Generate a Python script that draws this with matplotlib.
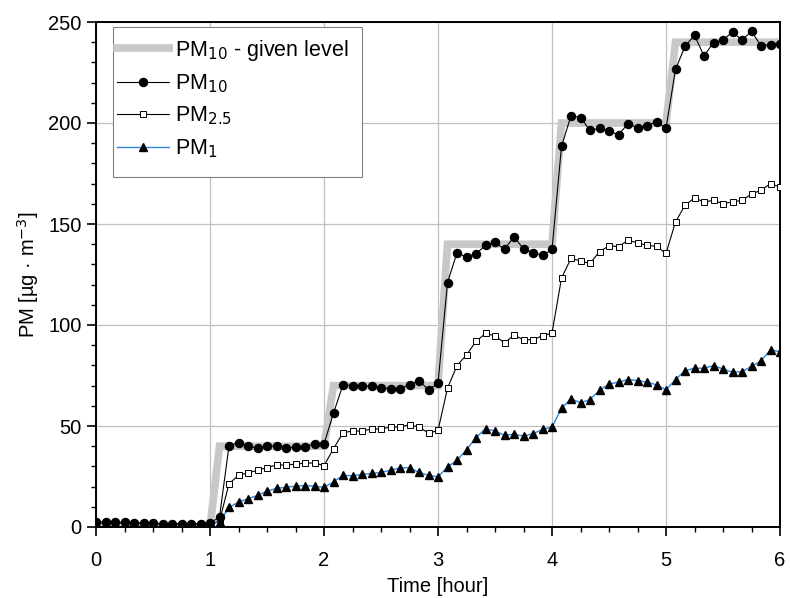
import numpy as np
import matplotlib.pyplot as plt
from matplotlib.patches import Rectangle
from matplotlib.ticker import MultipleLocator

# time axis: one sample every 5 minutes
time = np.arange(73) / 12

pm10 = [
    2.5, 2.5, 2.4, 2.3, 2.2, 2.0, 1.8, 1.7, 1.6, 1.6, 1.5, 1.5, 1.8,
    5.0, 40.1, 41.8, 40.1, 39.0, 40.1, 40.1, 39.3, 39.4, 39.8, 41.1, 41.1,
    56.4, 70.4, 70.0, 69.7, 69.7, 68.9, 68.5, 68.4, 70.5, 72.5, 67.9, 71.2,
    121.0, 135.8, 133.6, 135.3, 139.4, 140.9, 137.6, 143.6, 137.7, 135.8, 134.5, 137.4,
    188.4, 203.6, 202.7, 196.3, 197.4, 195.8, 194.3, 199.6, 197.7, 198.7, 200.7, 197.4,
    226.5, 238.0, 243.4, 233.2, 239.8, 241.0, 245.1, 241.0, 245.4, 238.2, 238.8, 239.3,
]

pm25 = [
    2.0, 2.0, 1.9, 1.8, 1.8, 1.7, 1.6, 1.5, 1.5, 1.4, 1.4, 1.4, 1.5,
    3.0, 21.4, 25.6, 26.8, 28.1, 29.4, 30.7, 30.7, 31.1, 31.6, 31.7, 30.4,
    38.7, 46.7, 47.5, 47.5, 48.5, 48.5, 49.5, 49.5, 50.6, 49.5, 46.5, 47.8,
    68.7, 79.9, 85.2, 91.9, 95.8, 94.7, 91.1, 95.0, 92.7, 92.7, 94.7, 96.0,
    123.2, 133.0, 131.7, 130.5, 136.3, 139.2, 138.8, 141.9, 140.7, 139.4, 139.0, 135.4,
    151.0, 159.3, 162.9, 160.9, 161.7, 160.1, 160.9, 161.7, 164.8, 166.7, 170.0, 168.3,
]

pm1 = [
    2.0, 2.0, 1.9, 1.9, 1.8, 1.7, 1.6, 1.5, 1.5, 1.4, 1.4, 1.4, 1.5,
    2.6, 9.7, 12.3, 14.0, 15.6, 17.8, 19.1, 19.7, 20.2, 20.5, 20.2, 19.6,
    22.3, 25.6, 25.3, 26.1, 26.5, 27.0, 28.1, 29.2, 29.4, 27.0, 25.6, 24.8,
    29.7, 33.0, 38.3, 44.2, 48.7, 47.5, 45.4, 45.9, 45.0, 46.2, 48.3, 49.5,
    58.7, 63.5, 61.5, 63.1, 67.6, 70.8, 71.7, 73.0, 72.5, 71.7, 70.4, 67.9,
    73.0, 77.4, 78.6, 78.6, 79.9, 78.2, 76.6, 76.9, 79.5, 82.3, 87.6, 86.8,
]

# given PM10 level (step vertices)
given_t = [0, 1, 1 + 1 / 12, 2, 2 + 1 / 12, 3, 3 + 1 / 12, 4, 4 + 1 / 12, 5, 5 + 1 / 12, 6]
given_v = [0, 0, 40, 40, 70, 70, 140, 140, 200, 200, 240, 240]

plt.rcParams["font.family"] = ["Liberation Sans", "DejaVu Sans"]

fig = plt.figure(figsize=(7.9, 5.98), dpi=100)
ax = fig.add_axes([96 / 790, 1 - 527 / 598, 684 / 790, 505 / 598])

ax.plot(given_t, given_v, color="#c8c8c8", lw=5.5, solid_joinstyle="miter",
        label="PM$_{10}$ - given level", zorder=2)
ax.plot(time, pm10, color="black", lw=0.8, marker="o", ms=5.8,
        label="PM$_{10}$", zorder=4)
ax.plot(time, pm25, color="black", lw=0.8, marker="s", ms=5, mfc="white",
        mec="black", mew=0.7, label="PM$_{2.5}$", zorder=3)
ax.plot(time, pm1, color="#2b86e0", lw=1.0, marker="^", ms=6.2, mfc="black",
        mec="black", label="PM$_{1}$", zorder=3)

ax.set_xlim(0, 6)
ax.set_ylim(0, 250)
ax.xaxis.set_major_locator(MultipleLocator(1))
ax.xaxis.set_minor_locator(MultipleLocator(0.25))
ax.yaxis.set_major_locator(MultipleLocator(50))
ax.yaxis.set_minor_locator(MultipleLocator(10))
ax.tick_params(which="major", direction="out", length=6.5, width=1.2,
               labelsize=14.5, colors="black")
ax.tick_params(which="minor", direction="out", length=3.5, width=1.0)
ax.tick_params(axis="x", which="major", pad=11)
ax.tick_params(axis="y", which="major", pad=4)
for s in ax.spines.values():
    s.set_linewidth(1.4)

ax.grid(True, which="major", color="#c0c0c0", lw=0.9, zorder=0)
ax.set_axisbelow(True)

ax.set_xlabel("Time [hour]", fontsize=14.5, labelpad=5)
ax.set_ylabel("PM [µg · m$^{-3}$]", fontsize=14.5, labelpad=5)

# legend entries without their own frame, box drawn separately
leg = ax.legend(loc="upper left", bbox_to_anchor=(0.024, 0.977), fontsize=15.5,
                frameon=False, handlelength=2.45, borderpad=0.2,
                labelspacing=0.45, handletextpad=0.25, borderaxespad=0.0)
ax.add_patch(Rectangle((0.025, 0.693), 0.364, 0.297, transform=ax.transAxes,
                       facecolor="white", edgecolor="#808080", lw=0.8,
                       zorder=5))
leg.set_zorder(6)

fig.savefig("out.png", dpi=100)
